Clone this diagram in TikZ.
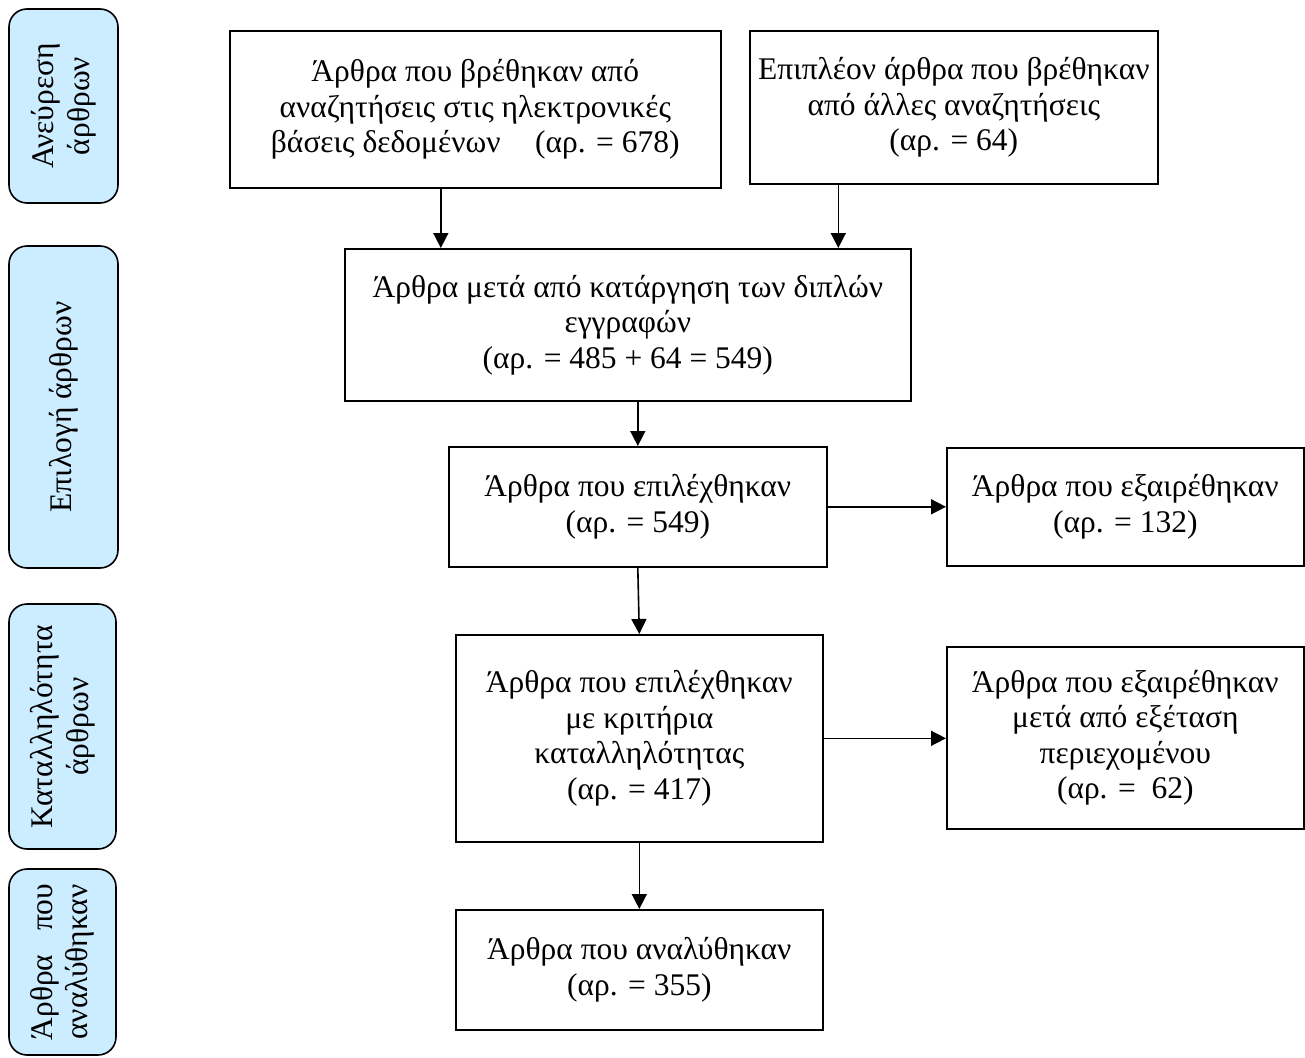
\documentclass[tikz,border=0pt]{standalone}
\usepackage{fontspec}
\setmainfont{Liberation Serif}
\usetikzlibrary{arrows.meta,calc}
\definecolor{stagefill}{HTML}{CCECFF}
\newcommand\flowfont{\fontsize{31.5}{35.5}\selectfont}
\tikzset{
  box/.style={draw, line width=1.6pt, align=center, inner sep=0pt, anchor=north west, font=\flowfont},
  stage/.style={draw, line width=1.6pt, rounded corners=18pt, fill=stagefill, rotate=90, align=center, inner sep=0pt, font=\flowfont},
  flow/.style={-{Triangle[length=15pt,width=15pt]}, line width=1.6pt}
}
\begin{document}
\begin{tikzpicture}[x=1pt, y=-1pt]
        \useasboundingbox (0,0) rectangle (1305,1057);

        % stages on the left
        \node [stage, minimum width=194pt, minimum height=109pt] (find) at (63.5,106) {Ανεύρεση\\άρθρων};
        \node [stage, minimum width=322pt, minimum height=109pt] (pick) at (63.5,407) {Επιλογή άρθρων};
        \node [stage, minimum width=245pt, minimum height=107pt] (fit) at (62.5,726.5) {Καταλληλότητα\\άρθρων};
        \node [stage, minimum width=186pt, minimum height=107pt] (done) at (62.5,962) {Άρθρα\hspace{0.75em}που\\αναλύθηκαν};

        % flow boxes
        \node [box, minimum width=491pt, minimum height=157pt] (art1) at (229,30)
            {Άρθρα που βρέθηκαν από\\αναζητήσεις στις ηλεκτρονικές\\βάσεις δεδομένων\hspace{1.1em}(αρ. = 678)};
        \node [box, minimum width=408pt, minimum height=153pt] (art2) at (749,30)
            {Επιπλέον άρθρα που βρέθηκαν\\από άλλες αναζητήσεις\\(αρ. = 64)};
        \node [box, minimum width=566pt, minimum height=152pt] (uniq) at (344,248)
            {Άρθρα μετά από κατάργηση των διπλών\\εγγραφών\\(αρ. = 485 + 64 = 549)};
        \node [box, minimum width=378pt, minimum height=120pt] (sel) at (448,446)
            {Άρθρα που επιλέχθηκαν\\(αρ. = 549)};
        \node [box, minimum width=357pt, minimum height=118pt] (excl) at (946,447)
            {Άρθρα που εξαιρέθηκαν\\(αρ. = 132)};
        \node [box, minimum width=367pt, minimum height=207pt] (suit) at (455,634)
            {Άρθρα που επιλέχθηκαν\\με κριτήρια\\καταλληλότητας\\(αρ. = 417)};
        \node [box, minimum width=357pt, minimum height=182pt] (excl2) at (946,646)
            {Άρθρα που εξαιρέθηκαν\\μετά από εξέταση\\περιεχομένου\\(αρ. =\ \ 62)};
        \node [box, minimum width=367pt, minimum height=120pt] (anal) at (455,909)
            {Άρθρα που αναλύθηκαν\\(αρ. = 355)};

        % connectors
        \coordinate (a1) at ($(art1.south west)!0.43!(art1.south east)$);
        \coordinate (a2) at ($(art2.south west)!0.218!(art2.south east)$);
        \draw [flow] (a1) -- (a1 |- uniq.north);
        \draw [flow] (a2) -- (a2 |- uniq.north);
        \draw [flow] (sel.north |- uniq.south) -- (sel.north);
        \draw [flow] (sel.east) -- (sel.east -| excl.west);
        \draw [flow] (sel.south) -- (suit.north);
        \draw [flow] (suit.east) -- (suit.east -| excl2.west);
        \draw [flow] (suit.south) -- (anal.north);

\end{tikzpicture}
\end{document}
